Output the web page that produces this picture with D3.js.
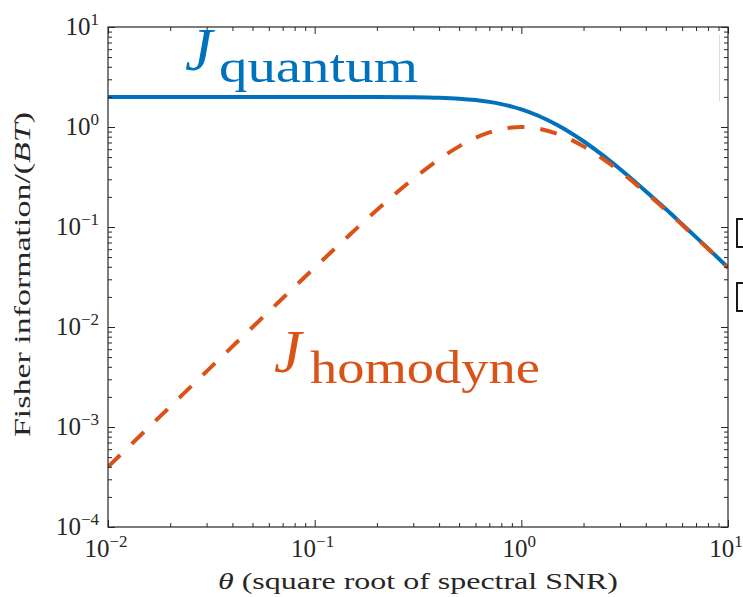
<!DOCTYPE html>
<html>
<head>
<meta charset="utf-8">
<script src="https://cdn.jsdelivr.net/npm/d3@7"></script>
<style>
  body { margin: 0; background: #fff; }
  svg { display: block; font-family: "Liberation Serif", "DejaVu Serif", serif; }
</style>
</head>
<body>
<svg id="chart" width="743" height="597"></svg>
<script>
// Values (log-log plot).
const theta = [0.01, 0.02, 0.03, 0.05, 0.07, 0.1, 0.15, 0.2, 0.3, 0.4, 0.5, 0.6, 0.7, 0.8, 0.9,
  1, 1.2, 1.5, 2, 2.5, 3, 4, 5, 6, 7, 8, 10];
const jQuantum = [2.0, 2.0, 2.0, 2.0, 2.0, 2.0, 1.999, 1.997, 1.986, 1.962, 1.92, 1.86, 1.784, 1.695, 1.599,
  1.5, 1.303, 1.041, 0.72, 0.514, 0.38, 0.228, 0.151, 0.1066, 0.0792, 0.0611, 0.0394];
const jHomodyne = [0.0004, 0.0016, 0.0036, 0.00995, 0.0194, 0.0392, 0.0861, 0.148, 0.303, 0.476, 0.64, 0.779, 0.883, 0.952, 0.989,
  1.0, 0.967, 0.852, 0.64, 0.476, 0.36, 0.221, 0.148, 0.105, 0.0784, 0.0606, 0.0392];
const xDecades = [-2, -1, 0, 1];
const yDecades = [-4, -3, -2, -1, 0, 1];

const svg = d3.select("#chart");
const pLeft = 108, pRight = 728, pTop = 27, pBottom = 527;
const axisColor = "#262626";

const x = d3.scaleLog().domain([1e-2, 1e1]).range([pLeft, pRight]);
const y = d3.scaleLog().domain([1e-4, 1e1]).range([pBottom, pTop]);

// Minor tick positions (2..9 times each decade).
function minors(decs) {
  let out = [];
  for (let i = 0; i < decs.length - 1; i++) {
    for (let m = 2; m <= 9; m++) out.push(m * Math.pow(10, decs[i]));
  }
  return out;
}
const xMajor = xDecades.map(d => Math.pow(10, d));
const yMajor = yDecades.map(d => Math.pow(10, d));

// Clip for the curves.
svg.append("clipPath").attr("id", "clip")
  .append("rect").attr("x", pLeft).attr("y", pTop).attr("width", pRight - pLeft).attr("height", pBottom - pTop);

const line = (vals) => d3.line()
  .x((d, i) => x(theta[i]))
  .y((d, i) => y(vals[i]))
  .curve(d3.curveMonotoneX)(vals);

svg.append("path")
  .attr("d", line(jQuantum))
  .attr("clip-path", "url(#clip)")
  .attr("fill", "none")
  .attr("stroke", "#0072BD")
  .attr("stroke-width", 4);

svg.append("path")
  .attr("d", line(jHomodyne))
  .attr("clip-path", "url(#clip)")
  .attr("fill", "none")
  .attr("stroke", "#D95319")
  .attr("stroke-width", 4)
  .attr("stroke-dasharray", "17,16");

// Axes: inward ticks on all four sides.
function addAxis(axisFn, scale, vals, size, tx, ty) {
  const g = svg.append("g")
    .attr("transform", `translate(${tx},${ty})`)
    .call(axisFn(scale).tickValues(vals).tickSize(size).tickFormat(""));
  g.select(".domain").remove();
  g.selectAll("line").attr("stroke", axisColor).attr("stroke-width", 1);
}
addAxis(d3.axisBottom, x, xMajor, -7, 0, pBottom);
addAxis(d3.axisBottom, x, minors(xDecades), -4, 0, pBottom);
addAxis(d3.axisTop, x, xMajor, -7, 0, pTop);
addAxis(d3.axisTop, x, minors(xDecades), -4, 0, pTop);
addAxis(d3.axisLeft, y, yMajor, -7, pLeft, 0);
addAxis(d3.axisLeft, y, minors(yDecades), -4, pLeft, 0);
addAxis(d3.axisRight, y, yMajor, -7, pRight, 0);
addAxis(d3.axisRight, y, minors(yDecades), -4, pRight, 0);

svg.append("rect")
  .attr("x", pLeft).attr("y", pTop)
  .attr("width", pRight - pLeft).attr("height", pBottom - pTop)
  .attr("fill", "none").attr("stroke", axisColor).attr("stroke-width", 1.2);

// Tick labels as 10^n
function powLabel(px, py, exp, anchor) {
  const t = svg.append("text")
    .attr("x", px).attr("y", py)
    .attr("text-anchor", anchor)
    .attr("fill", axisColor)
    .attr("font-size", 25);
  t.append("tspan").text("10");
  t.append("tspan").attr("dy", -10).attr("font-size", 17).text(exp < 0 ? "\u2212" + (-exp) : exp);
}
xDecades.forEach(d => powLabel(x(Math.pow(10, d)) - 2, 557, d, "middle"));
yDecades.forEach(d => powLabel(99, y(Math.pow(10, d)) + 8, d, "end"));

// Axis titles
const xt = svg.append("text")
  .attr("x", 218).attr("y", 589)
  .attr("font-size", 23)
  .attr("fill", axisColor)
  .attr("textLength", 400).attr("lengthAdjust", "spacingAndGlyphs");
xt.append("tspan").attr("font-style", "italic").text("\u03b8");
xt.append("tspan").text(" (square root of spectral SNR)");

const yt = svg.append("text")
  .attr("transform", "translate(30,437) rotate(-90)")
  .attr("font-size", 23)
  .attr("fill", axisColor)
  .attr("textLength", 325).attr("lengthAdjust", "spacingAndGlyphs");
yt.append("tspan").text("Fisher information/(");
yt.append("tspan").attr("font-style", "italic").text("BT");
yt.append("tspan").text(")");

// Curve labels
function curveLabel(jx, jy, subx, suby, sub, subLen, color) {
  svg.append("text")
    .attr("x", jx).attr("y", jy)
    .attr("font-size", 62).attr("font-style", "italic")
    .attr("fill", color).text("J");
  svg.append("text")
    .attr("x", subx).attr("y", suby)
    .attr("font-size", 47)
    .attr("fill", color)
    .attr("textLength", subLen).attr("lengthAdjust", "spacingAndGlyphs")
    .text(sub);
}
curveLabel(185, 70, 219, 82, "quantum", 199, "#0072BD");
curveLabel(274, 372, 310, 383, "homodyne", 230, "#D95319");

// Bits of legend boxes cut off at the right edge
svg.append("line")
  .attr("x1", 719.5).attr("x2", 719.5).attr("y1", 35).attr("y2", 101)
  .attr("stroke", "#dcdcdc").attr("stroke-width", 1);
[219, 283].forEach(by => {
  svg.append("rect")
    .attr("x", 737).attr("y", by).attr("width", 20).attr("height", 28)
    .attr("fill", "#fff").attr("stroke", "#000").attr("stroke-width", 1.8);
});
</script>
</body>
</html>
